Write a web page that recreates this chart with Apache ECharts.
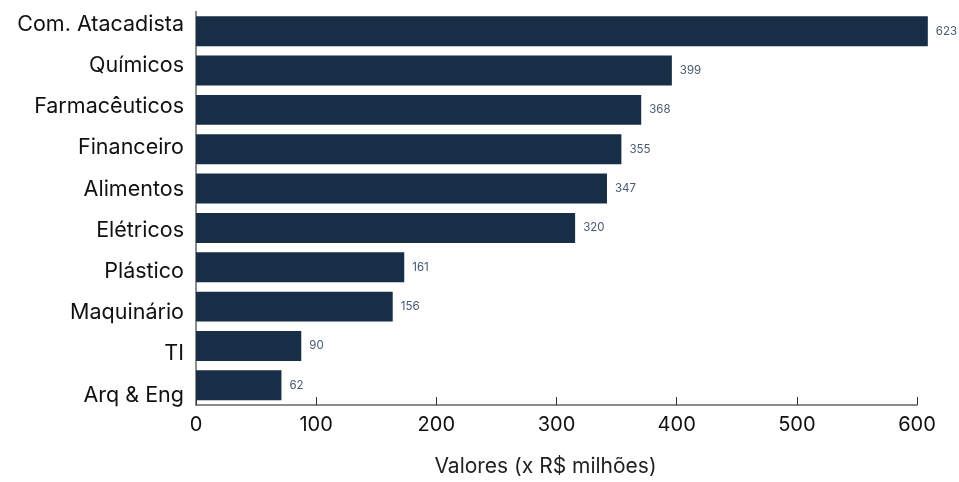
<!DOCTYPE html>
<html>
<head>
<meta charset="utf-8">
<script src="https://cdn.jsdelivr.net/npm/echarts@6/dist/echarts.min.js"></script>
<style>html,body{margin:0;padding:0;background:#fff}#c{width:959px;height:482px}</style>
</head>
<body>
<div id="c"></div>
<script>
const categories = ["Com. Atacadista","Químicos","Farmacêuticos","Financeiro","Alimentos","Elétricos","Plástico","Maquinário","TI","Arq & Eng"];
const barValues = [609, 396, 370.5, 354, 342, 315.5, 173.3, 163.7, 87.6, 71.1];
const valueLabels = ["623","399","368","355","347","320","161","156","90","62"];
const xTicks = [0,100,200,300,400,500,600];

const FONT = 'Inter';
const chart = echarts.init(document.getElementById('c'));
chart.setOption({
  animation: false,
  grid: [
    {left: 196, right: 42, top: 11.5, bottom: 74, containLabel: false},
    {left: 196, right: 42, top: 3.9, bottom: 66.3, containLabel: false}
  ],
  xAxis: [{
    type: 'value', min: xTicks[0], max: xTicks[xTicks.length-1], interval: 100,
    name: 'Valores (x R$ milhões)', nameLocation: 'middle', nameGap: 51,
    nameTextStyle: {fontFamily: FONT, fontSize: 21, color: '#222', padding: [0, 22, 0, 0]},
    axisLine: {show: true, lineStyle: {color: '#666', width: 1.5}},
    axisTick: {show: true, inside: true, length: 8, lineStyle: {color: '#333'}},
    splitLine: {show: false},
    axisLabel: {fontFamily: FONT, fontSize: 20, color: '#111', margin: 10}
  }, {
    type: 'value', gridIndex: 1, show: false, min: 0, max: 600
  }],
  yAxis: [{
    type: 'category', data: categories, inverse: true,
    axisLine: {show: true, lineStyle: {color: '#666', width: 1.5}},
    axisTick: {show: false},
    axisLabel: {show: false}
  }, {
    type: 'category', data: categories, inverse: true, gridIndex: 1,
    axisLine: {show: false},
    axisTick: {show: false},
    splitLine: {show: false},
    axisLabel: {fontFamily: FONT, fontSize: 21.5, color: '#111', margin: 12}
  }],
  series: [{
    type: 'bar', data: barValues, clip: false, barWidth: '76%',
    itemStyle: {color: '#172e46'},
    label: {show: true, position: 'right', distance: 8,
      formatter: p => valueLabels[p.dataIndex],
      fontFamily: FONT, fontSize: 11.5, color: '#4a5a70'}
  }]
});
</script>
</body>
</html>
